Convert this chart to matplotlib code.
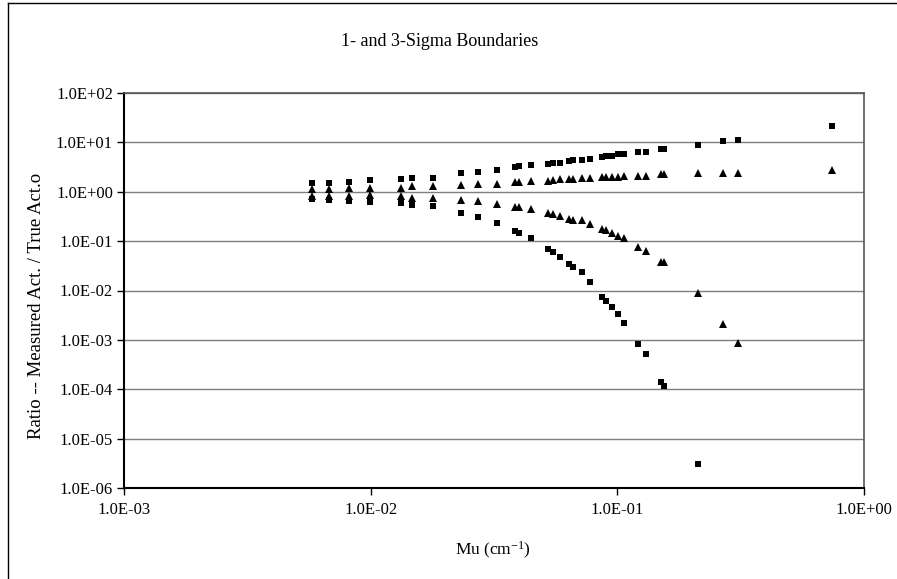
import numpy as np
import matplotlib
matplotlib.use("Agg")
import matplotlib.pyplot as plt
from matplotlib.ticker import FixedLocator, FuncFormatter, NullLocator
from matplotlib.lines import Line2D

# ---- data ----
mu = [0.00578, 0.00676, 0.00815, 0.00991, 0.01323, 0.0147, 0.01788, 0.02329,
      0.0272, 0.03267, 0.03853, 0.03985, 0.04473, 0.05256, 0.05472, 0.05876,
      0.0635, 0.06592, 0.07184, 0.0776, 0.08653, 0.0901, 0.09482, 0.1007,
      0.1065, 0.1214, 0.1301, 0.150, 0.1539, 0.2128, 0.2678, 0.3082, 0.7441]

upper_3sigma = [1.52, 1.50, 1.59, 1.72, 1.81, 1.94, 1.94, 2.36, 2.48, 2.81,
                3.21, 3.25, 3.42, 3.67, 3.86, 3.86, 4.12, 4.44, 4.44, 4.59,
                4.97, 5.36, 5.36, 5.72, 5.72, 6.46, 6.46, 7.22, 7.22, 9.04,
                10.5, 11.1, 21.1]

upper_1sigma = [1.13, 1.13, 1.17, 1.17, 1.21, 1.28, 1.28, 1.38, 1.44, 1.44,
                1.56, 1.56, 1.64, 1.67, 1.72, 1.78, 1.78, 1.78, 1.87, 1.87,
                1.98, 1.98, 1.98, 1.98, 2.11, 2.11, 2.11, 2.25, 2.25, 2.42,
                2.42, 2.42, 2.75]

lower_1sigma = [0.836, 0.817, 0.82, 0.855, 0.82, 0.762, 0.762, 0.678, 0.647,
                0.562, 0.495, 0.495, 0.439, 0.364, 0.347, 0.321, 0.283, 0.267,
                0.262, 0.219, 0.175, 0.167, 0.143, 0.128, 0.1135, 0.0766,
                0.0627, 0.038, 0.038, 0.0087, 0.00214, 0.000883, np.nan]

lower_3sigma = [0.70, 0.69, 0.656, 0.625, 0.58, 0.55, 0.512, 0.378, 0.31,
                0.229, 0.16, 0.147, 0.115, 0.0705, 0.059, 0.048, 0.0337,
                0.0293, 0.0238, 0.01455, 0.00733, 0.00601, 0.0047, 0.00342,
                0.00221, 0.000817, 0.000519, 0.000141, 0.000115, 3.0e-6,
                np.nan, np.nan, np.nan]

x_ticks = [1e-3, 1e-2, 1e-1, 1e0]
y_ticks = [1e-6, 1e-5, 1e-4, 1e-3, 1e-2, 1e-1, 1e0, 1e1, 1e2]

title = "1- and 3-Sigma Boundaries"
xlabel = "Mu (cm$^{-1}$)"
ylabel = "Ratio -- Measured Act. / True Act.o"

# ---- figure ----
plt.rcParams['font.family'] = ['Liberation Serif', 'DejaVu Serif']
plt.rcParams['mathtext.fontset'] = 'custom'
plt.rcParams['mathtext.rm'] = 'Liberation Serif'
plt.rcParams['mathtext.it'] = 'Liberation Serif:italic'

W, H = 897, 579
fig = plt.figure(figsize=(W / 100, H / 100), dpi=100)
L, R, T, B = 124, 864, 93, 488
ax = fig.add_axes([L / W, (H - B) / H, (R - L) / W, (B - T) / H])

ax.set_xscale('log')
ax.set_yscale('log')
ax.set_xlim(1e-3, 1e0)
ax.set_ylim(1e-6, 1e2)

sq = dict(marker='s', markersize=4.4, color='black', linestyle='none',
          markeredgewidth=0, zorder=3)
tri = dict(marker='^', markersize=6.0, color='black', linestyle='none',
           markeredgewidth=0, zorder=3)
ax.plot(mu, upper_3sigma, **sq)
ax.plot(mu, upper_1sigma, **tri)
ax.plot(mu, lower_1sigma, **tri)
ax.plot(mu, lower_3sigma, **sq)

ax.xaxis.set_major_locator(FixedLocator(x_ticks))
ax.yaxis.set_major_locator(FixedLocator(y_ticks))
ax.xaxis.set_minor_locator(NullLocator())
ax.yaxis.set_minor_locator(NullLocator())
fmt = FuncFormatter(lambda v, p: "%.1E" % v)
ax.xaxis.set_major_formatter(fmt)
ax.yaxis.set_major_formatter(fmt)

ax.grid(axis='y', which='major', color='#7f7f7f', linewidth=1.0, zorder=1)
ax.set_axisbelow(True)

for s in ['left', 'bottom']:
    ax.spines[s].set_color('black')
    ax.spines[s].set_linewidth(1.5)
for s in ['top', 'right']:
    ax.spines[s].set_color('#555555')
    ax.spines[s].set_linewidth(1.2)

ax.tick_params(axis='both', which='major', direction='out', length=5,
               width=1.0, color='black', labelsize=12)
ax.tick_params(axis='y', pad=3)
ax.tick_params(axis='x', pad=5)

fig.text(440 / W, 1 - 42 / H, title, ha='center', va='center',
         fontsize=13)
fig.text(493 / W, 1 - 550 / H, xlabel, ha='center', va='center',
         fontsize=12.5)
fig.text(37 / W, 1 - 306 / H, ylabel, ha='center', va='center',
         rotation=90, fontsize=13.5)

# outer chart frame (left and top edges visible)
fig.add_artist(Line2D([7.5 / W, 7.5 / W], [1 - 2.5 / H, 0], color='black',
                      linewidth=1.0, transform=fig.transFigure))
fig.add_artist(Line2D([7.5 / W, 1], [1 - 2.5 / H, 1 - 2.5 / H], color='black',
                      linewidth=1.0, transform=fig.transFigure))

fig.savefig('out.png', dpi=100)
